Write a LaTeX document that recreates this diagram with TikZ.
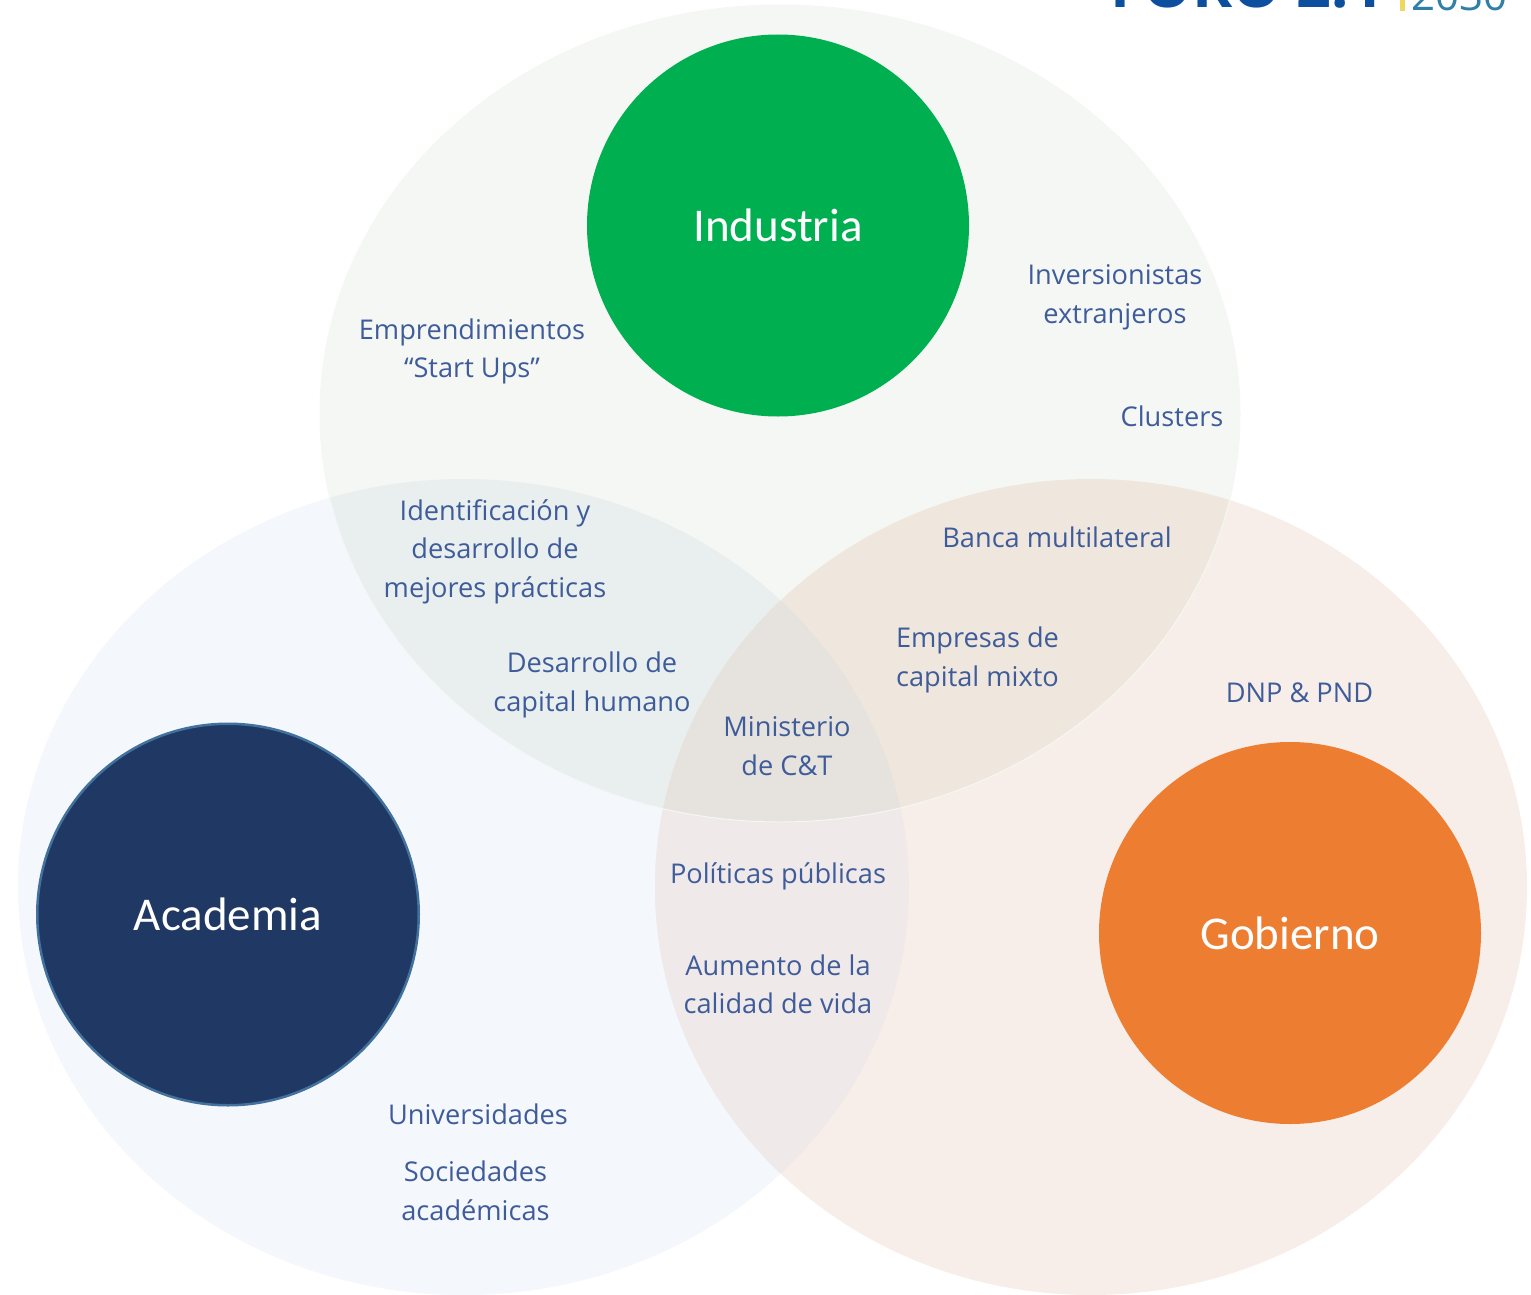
\documentclass[tikz,border=0pt]{standalone}
\usepackage{fontspec}
\setmainfont{Open Sans}
\newfontfamily\headfont{Carlito}
\definecolor{topc}{HTML}{F5F7F4}
\definecolor{leftc}{HTML}{F4F7FC}
\definecolor{rightc}{HTML}{F8EEE9}
\definecolor{tl}{HTML}{E9EFEE}
\definecolor{tr}{HTML}{EFE7DD}
\definecolor{lr}{HTML}{F0E9E9}
\definecolor{tlr}{HTML}{E6E3DE}
\definecolor{labelc}{HTML}{3F5C9A}
\definecolor{indc}{HTML}{00B050}
\definecolor{acac}{HTML}{1F3864}
\definecolor{acab}{HTML}{41719C}
\definecolor{gobc}{HTML}{ED7D31}
\definecolor{logoc}{HTML}{0B4F9E}
\definecolor{yearc}{HTML}{2F7FA6}
\definecolor{barc}{HTML}{F0D860}
\tikzset{
  lab/.style={text=labelc,align=center,font=\fontsize{27.2}{38.5}\selectfont,inner sep=0pt},
  hub/.style={circle,minimum size=382pt,inner sep=0pt,text=white,font=\headfont\fontsize{47}{50}\selectfont}
}
\def\TopE{(780,413.5) ellipse [x radius=460,y radius=408.5]}
\def\LeftE{(463.5,887) ellipse [x radius=445.5,y radius=408]}
\def\RightE{(1091,887) ellipse [x radius=436,y radius=408]}
\begin{document}
\begin{tikzpicture}[x=1pt,y=-1pt]
\useasboundingbox (0,0) rectangle (1531,1295);
\fill[white] (0,0) rectangle (1531,1295);
% logo, cut off by the top edge
\begin{scope}
\clip (1090,0) rectangle (1531,12);
\node[anchor=base west,inner sep=0pt,text=logoc,font=\bfseries\fontsize{61}{61}\selectfont] (logo) at (1110,7.5) {FORO 2.1};
\fill[barc] (1400,0) rectangle (1405,11);
\node[anchor=base west,inner sep=0pt,text=yearc,font=\fontsize{42}{42}\selectfont] (year) at (1411,11) {2030};
\end{scope}
% venn regions
\fill[leftc] \LeftE;
\fill[rightc] \RightE;
\begin{scope}\clip \LeftE; \fill[lr] \RightE; \end{scope}
\fill[topc] \TopE;
\begin{scope}\clip \TopE; \fill[tl] \LeftE; \fill[tr] \RightE;
  \clip \LeftE; \fill[tlr] \RightE; \end{scope}
\draw[topc,line width=1pt] \TopE;
% hubs
\node[hub,fill=indc] (ind) at (778,225.5) {Industria};
\node[hub,fill=acac,draw=acab,line width=2.5pt,minimum size=381.5pt] (aca) at (228,914.5) {Academia};
\node[hub,fill=gobc] (gob) at (1290,933) {Gobierno};
% labels
\node[lab] (a1) at (472,351.5) {Emprendimientos\\“Start Ups”};
\node[lab] (a2) at (1115,297.5) {Inversionistas\\extranjeros};
\node[lab] (a3) at (1172,416.5) {Clusters};
\node[lab] (a4) at (495,551.5) {Identificación y\\desarrollo de\\mejores prácticas};
\node[lab] (a5) at (1057,537) {Banca multilateral};
\node[lab] (a6) at (977.5,660) {Empresas de\\capital mixto};
\node[lab] (a7) at (592,685) {Desarrollo de\\capital humano};
\node[lab] (a8) at (787,746) {Ministerio\\de C\&T};
\node[lab] (a9) at (1299.5,692.5) {DNP \& PND};
\node[lab] (a10) at (778,876) {Políticas públicas};
\node[lab] (a11) at (778,984.5) {Aumento de la\\calidad de vida};
\node[lab] (a12) at (478,1114.5) {Universidades};
\node[lab] (a13) at (475.5,1191) {Sociedades\\académicas};
\end{tikzpicture}
\end{document}
